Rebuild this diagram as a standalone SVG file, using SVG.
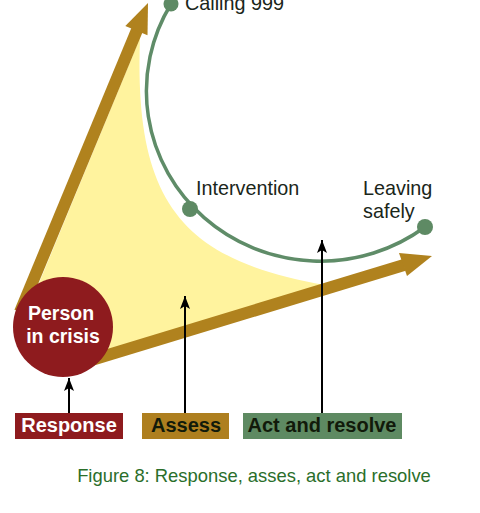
<svg xmlns="http://www.w3.org/2000/svg" width="480" height="513" viewBox="0 0 480 513">
<style>
.lbl{font-family:"Liberation Sans",Arial,sans-serif;font-size:19.8px;fill:#1a261a}
.box{font-family:"Liberation Sans",Arial,sans-serif;font-size:20px;font-weight:bold}
.gold{fill:#b0821e}
.dot{fill:#5e8a64}
.ptr{stroke:#000;stroke-width:2;fill:none}
</style>
<defs>
<marker id="ah" viewBox="0 0 13 10" refX="13" refY="5" markerWidth="13" markerHeight="10" markerUnits="userSpaceOnUse" orient="auto">
<path d="M13,5 L0,0 L3,5 L0,10 Z" fill="#000"/>
</marker>
</defs>
<rect width="480" height="513" fill="#fff"/>
<g id="field">
<path d="M30,305 L140,38 C134,200 180,260 325,285 L95,358 Z" fill="#fff39e"/>
</g>
<g id="arrow-up">
<line x1="20" y1="312" x2="137" y2="30" stroke="#b0821e" stroke-width="12"/>
<polygon class="gold" points="148,3 147.5,35.3 125.3,26.1"/>
</g>
<g id="arrow-right">
<line x1="85" y1="362" x2="404" y2="265" stroke="#b0821e" stroke-width="12"/>
<polygon class="gold" points="432,256 399,253 407,276"/>
</g>
<g id="path-green">
<path d="M171,4 A174,170 0 0,0 425,227" fill="none" stroke="#5f8c68" stroke-width="3.5"/>
</g>
<g id="calling">
<circle class="dot" cx="171" cy="4" r="7.5"/>
<text class="lbl" x="185" y="10">Calling 999</text>
</g>
<g id="intervention">
<circle class="dot" cx="190" cy="209" r="8"/>
<text class="lbl" x="196" y="195">Intervention</text>
</g>
<g id="leaving">
<circle class="dot" cx="425" cy="227" r="8"/>
<text class="lbl" x="363" y="195">Leaving</text>
<text class="lbl" x="363" y="218">safely</text>
</g>
<g id="person">
<circle cx="63" cy="327" r="50" fill="#8e1b1e"/>
<text x="61" y="320" text-anchor="middle" font-family="Liberation Sans,Arial,sans-serif" font-size="19.5" font-weight="bold" fill="#fff">Person</text>
<text x="63" y="343" text-anchor="middle" font-family="Liberation Sans,Arial,sans-serif" font-size="19.5" font-weight="bold" fill="#fff">in crisis</text>
</g>
<g id="connectors">
<line class="ptr" x1="69" y1="413" x2="69" y2="378" marker-end="url(#ah)"/>
<line class="ptr" x1="185" y1="413" x2="185" y2="296" marker-end="url(#ah)"/>
<line class="ptr" x1="322" y1="413" x2="322" y2="240" marker-end="url(#ah)"/>
</g>
<g id="response">
<rect x="15" y="413" width="108" height="26" fill="#8e1b1e"/>
<text class="box" x="69" y="432" text-anchor="middle" fill="#fff">Response</text>
</g>
<g id="assess">
<rect x="142" y="413" width="87" height="26" fill="#ae7f1f"/>
<text class="box" x="186" y="432" text-anchor="middle" fill="#111a0a">Assess</text>
</g>
<g id="act">
<rect x="243" y="413" width="159" height="26" fill="#5e8a62"/>
<text class="box" x="322" y="432" text-anchor="middle" fill="#111a0a">Act and resolve</text>
</g>
<g id="caption">
<text x="254" y="482" text-anchor="middle" font-family="Liberation Sans,Arial,sans-serif" font-size="18.4" fill="#2a6e2a">Figure 8: Response, asses, act and resolve</text>
</g>
</svg>
